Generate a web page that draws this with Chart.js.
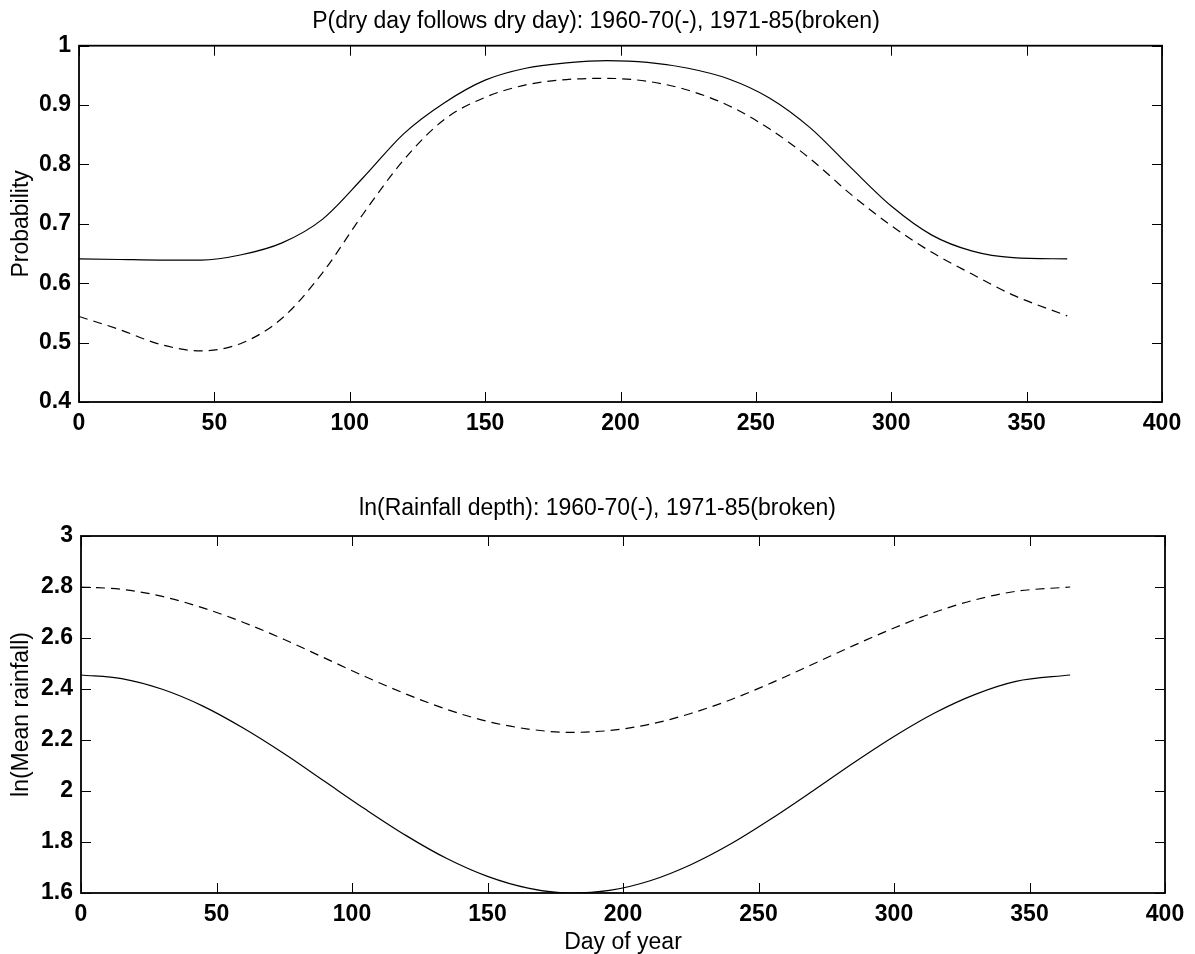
<!DOCTYPE html>
<html>
<head>
<meta charset="utf-8">
<title>Dry-day probability and rainfall depth</title>
<script src="https://cdn.jsdelivr.net/npm/chart.js@4.4.1/dist/chart.umd.min.js"></script>
<style>
    html, body { margin: 0; padding: 0; background: #fff; }
    #wrap   { position: relative; width: 1195px; height: 954px; }
    canvas  { position: absolute; left: 0; }
    #top    { top: 0; }
    #bottom { top: 470px; }
</style>
</head>
<body>
<div id="wrap">
    <canvas id="top" width="1195" height="470"></canvas>
    <canvas id="bottom" width="1195" height="484"></canvas>
</div>
<script>
// ── Data ───────────────────────────────────────
const days = [0, 15, 30, 45, 60, 75, 90, 105, 120, 135, 150, 165, 180,
              195, 210, 225, 240, 255, 270, 285, 300, 315, 330, 345, 365];

// P(dry day follows dry day)
const pDry6070 = [0.641, 0.640, 0.639, 0.639, 0.648, 0.668, 0.708, 0.778, 0.852, 0.904, 0.942, 0.962, 0.971,
                  0.975, 0.972, 0.962, 0.944, 0.912, 0.862, 0.795, 0.730, 0.681, 0.654, 0.643, 0.641];
const pDry7185 = [0.544, 0.522, 0.497, 0.486, 0.499, 0.541, 0.618, 0.717, 0.808, 0.876, 0.913, 0.934, 0.943,
                  0.945, 0.940, 0.925, 0.899, 0.860, 0.810, 0.750, 0.697, 0.652, 0.615, 0.580, 0.545];

// ln(Rainfall depth)
const lnRain6070 = [2.455, 2.441, 2.399, 2.333, 2.246, 2.146, 2.037, 1.928, 1.825, 1.735, 1.665, 1.619, 1.600,
                    1.610, 1.648, 1.711, 1.794, 1.893, 2.000, 2.110, 2.214, 2.306, 2.379, 2.430, 2.455];
const lnRain7185 = [2.800, 2.791, 2.763, 2.718, 2.661, 2.594, 2.521, 2.448, 2.380, 2.320, 2.273, 2.243, 2.230,
                    2.237, 2.262, 2.304, 2.359, 2.425, 2.497, 2.570, 2.639, 2.701, 2.750, 2.783, 2.800];

// ── Tick labels ────────────────────────────────
const dayTicks  = [0, 50, 100, 150, 200, 250, 300, 350, 400];
const probTicks = [0.4, 0.5, 0.6, 0.7, 0.8, 0.9, 1];
const rainTicks = [1.6, 1.8, 2, 2.2, 2.4, 2.6, 2.8, 3];

const FONT = 'Arial, "Liberation Sans", Helvetica, sans-serif';

// box round the axes + inward ticks on all four sides (MATLAB look)
const frame = {
    id: 'frame',
    afterDraw(chart) {
        const { ctx, chartArea: a, scales } = chart;
        const len = 10;
        ctx.save();
        ctx.strokeStyle = '#000';
        ctx.lineWidth = 1;
        ctx.beginPath();
        scales.x.ticks.forEach(t => {
            const px = Math.round(scales.x.getPixelForValue(t.value)) + 0.5;
            ctx.moveTo(px, a.bottom); ctx.lineTo(px, a.bottom - len);
            ctx.moveTo(px, a.top);    ctx.lineTo(px, a.top + len);
        });
        scales.y.ticks.forEach(t => {
            const py = Math.round(scales.y.getPixelForValue(t.value)) + 0.5;
            ctx.moveTo(a.left, py);  ctx.lineTo(a.left + len, py);
            ctx.moveTo(a.right, py); ctx.lineTo(a.right - len, py);
        });
        ctx.stroke();
        ctx.lineWidth = 1.8;
        ctx.strokeRect(a.left, a.top, a.right - a.left, a.bottom - a.top);
        ctx.restore();
    }
};

function serie(values, dashed) {
    return {
        data: days.map((d, i) => ({ x: d, y: values[i] })),
        borderColor: '#000',
        borderWidth: 1.2,
        borderDash: dashed ? [9, 6] : [],
        pointRadius: 0,
        cubicInterpolationMode: 'monotone',
        fill: false
    };
}

function crearPanel(id, o) {
    return new Chart(document.getElementById(id), {
        type: 'line',
        data: { datasets: [serie(o.solid, false), serie(o.broken, true)] },
        plugins: [frame],
        options: {
            responsive: false,
            animation: false,
            events: [],
            // left padding only moves the title centre; the y axis width makes up the rest
            layout: { padding: { left: o.padLeft, right: o.right, top: 0, bottom: 0 } },
            plugins: {
                legend:  { display: false },
                tooltip: { enabled: false },
                title: {
                    display: true,
                    text: o.title,
                    fullSize: true,
                    color: '#000',
                    font: { family: FONT, size: 23, weight: 'normal', lineHeight: 1.2 },
                    padding: o.titlePad
                }
            },
            scales: {
                x: {
                    type: 'linear',
                    min: 0, max: 400,
                    afterBuildTicks: s => { s.ticks = dayTicks.map(v => ({ value: v })); },
                    afterFit: s => { s.height = o.xHeight; },
                    grid:   { display: false, drawTicks: false },
                    border: { display: false },
                    ticks: {
                        color: '#000', padding: 8, maxRotation: 0,
                        font: { family: FONT, size: 23, weight: 'bold' },
                        callback: v => String(v)
                    },
                    title: {
                        display: !!o.xTitle,
                        text: o.xTitle || '',
                        color: '#000',
                        font: { family: FONT, size: 23, weight: 'normal', lineHeight: 1 },
                        padding: { top: 0, bottom: 0 }
                    }
                },
                y: {
                    min: o.yTicks[0], max: o.yTicks[o.yTicks.length - 1],
                    afterBuildTicks: s => { s.ticks = o.yTicks.map(v => ({ value: v })); },
                    afterFit: s => { s.width = o.left - o.padLeft; },
                    grid:   { display: false, drawTicks: false },
                    border: { display: false },
                    ticks: {
                        color: '#000', padding: 8,
                        font: { family: FONT, size: 23, weight: 'bold' },
                        callback: v => String(v)
                    },
                    title: {
                        display: true,
                        text: o.yTitle,
                        color: '#000',
                        font: { family: FONT, size: 23, weight: 'normal', lineHeight: 1.2 },
                        padding: { top: 8 - o.padLeft, bottom: 0 }
                    }
                }
            }
        }
    });
}

// ── Panels ─────────────────────────────────────
crearPanel('top', {
    title: 'P(dry day follows dry day): 1960-70(-), 1971-85(broken)',
    yTitle: 'Probability',
    solid: pDry6070, broken: pDry7185,
    yTicks: probTicks,
    left: 79, right: 33, padLeft: 30, xHeight: 68,
    titlePad: { top: 8.2, bottom: 9.9 }
});

crearPanel('bottom', {
    title: 'ln(Rainfall depth): 1960-70(-), 1971-85(broken)',
    yTitle: 'ln(Mean rainfall)',
    xTitle: 'Day of year',
    solid: lnRain6070, broken: lnRain7185,
    yTicks: rainTicks,
    left: 81, right: 30, padLeft: 30, xHeight: 61,
    titlePad: { top: 25.2, bottom: 13.2 }
});
</script>
</body>
</html>
